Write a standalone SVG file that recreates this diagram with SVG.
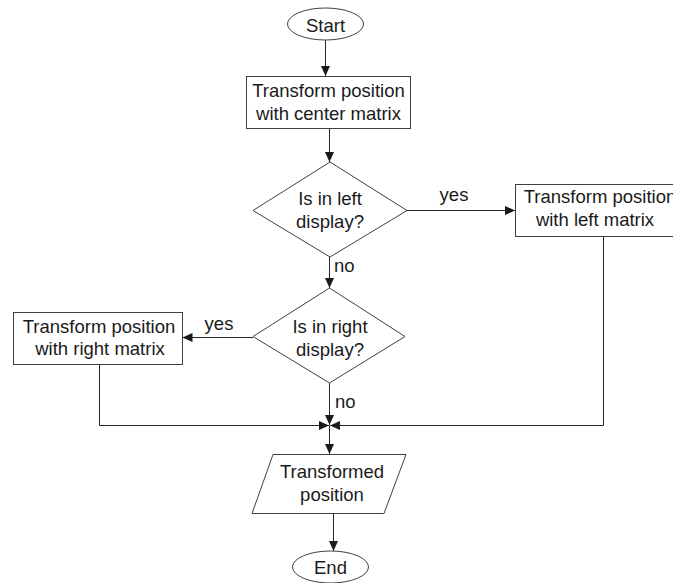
<svg xmlns="http://www.w3.org/2000/svg" width="673" height="583" viewBox="0 0 673 583">
  <style>
    .shape { fill: #ffffff; stroke: #404040; stroke-width: 1; }
    .conn { fill: none; stroke: #262626; stroke-width: 1; marker-end: url(#arrow); }
    text { font-family: "Liberation Sans", Arial, sans-serif; font-size: 18.5px; fill: #1a1a1a; }
    .c { text-anchor: middle; }
  </style>
  <defs>
    <marker id="arrow" markerUnits="userSpaceOnUse" markerWidth="10" markerHeight="9" refX="10" refY="4.5" orient="auto">
      <path d="M0,0 L10,4.5 L0,9 Z" fill="#1a1a1a"/>
    </marker>
  </defs>
  <rect width="673" height="583" fill="#ffffff"/>

  <g id="connectors">
    <path class="conn" d="M325.5,40 V76"/>
    <path class="conn" d="M329.5,128.5 V162"/>
    <path class="conn" d="M407,210.5 H515"/>
    <path class="conn" d="M329.5,257 V288"/>
    <path class="conn" d="M253,337.5 H182.5"/>
    <path class="conn" d="M329.5,383 V425"/>
    <path class="conn" d="M99.5,364.5 V425.5 H329"/>
    <path class="conn" d="M603.5,236.5 V425.5 H330"/>
    <path class="conn" d="M329.5,425.5 V454"/>
    <path class="conn" d="M333.5,513.5 V551"/>
    <text x="454" y="201" class="c">yes</text>
    <text x="334" y="272">no</text>
    <text x="219" y="330" class="c">yes</text>
    <text x="335" y="408">no</text>
  </g>

  <g id="start">
    <ellipse class="shape" cx="325.5" cy="24" rx="38" ry="16"/>
    <text x="325.5" y="32" class="c">Start</text>
  </g>

  <g id="center-transform">
    <rect class="shape" x="246.5" y="76.5" width="164" height="52"/>
    <text x="328.5" y="97" class="c">Transform position</text>
    <text x="328.5" y="120" class="c">with center matrix</text>
  </g>

  <g id="left-check">
    <polygon class="shape" points="330,162 407,210.5 330,257 253,210.5"/>
    <text x="330" y="205" class="c">Is in left</text>
    <text x="330" y="228" class="c">display?</text>
  </g>

  <g id="left-transform">
    <rect class="shape" x="515.5" y="184.5" width="175" height="52"/>
    <text x="600" y="203" class="c">Transform position</text>
    <text x="595" y="226" class="c">with left matrix</text>
  </g>

  <g id="right-check">
    <polygon class="shape" points="329.5,288 405,336.5 329.5,383 253,336.5"/>
    <text x="330" y="333" class="c">Is in right</text>
    <text x="330" y="356" class="c">display?</text>
  </g>

  <g id="right-transform">
    <rect class="shape" x="13.5" y="312.5" width="169" height="52"/>
    <text x="99" y="333" class="c">Transform position</text>
    <text x="100" y="355" class="c">with right matrix</text>
  </g>

  <g id="output">
    <polygon class="shape" points="273,454.5 406,454.5 384,513.5 252,513.5"/>
    <text x="332" y="478" class="c">Transformed</text>
    <text x="332" y="501" class="c">position</text>
  </g>

  <g id="end">
    <ellipse class="shape" cx="330.5" cy="567" rx="38" ry="16"/>
    <text x="330.5" y="574" class="c">End</text>
  </g>
</svg>
